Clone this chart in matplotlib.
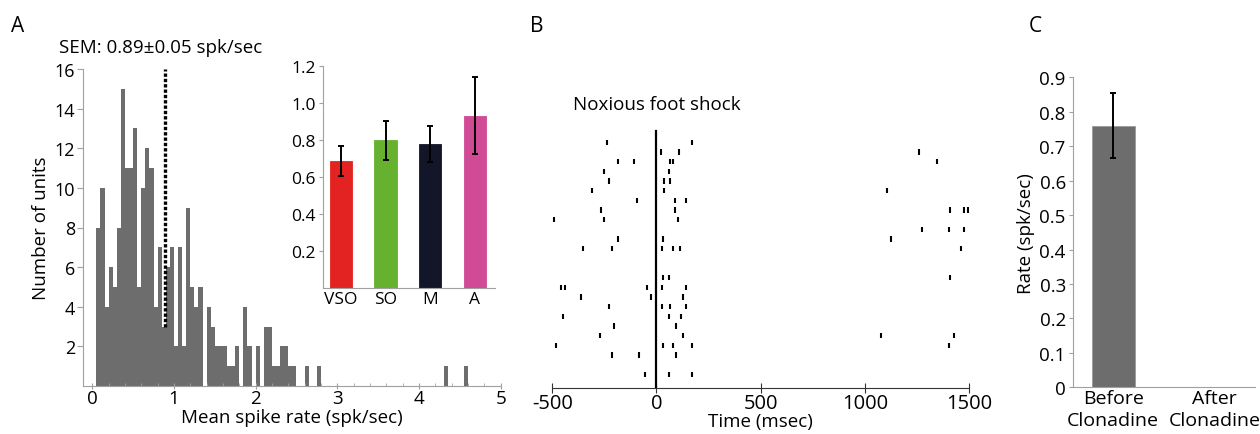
import numpy as np
import matplotlib
matplotlib.use("Agg")
import matplotlib.pyplot as plt

plt.rcParams['font.family'] = ['Open Sans', 'DejaVu Sans']
plt.rcParams['font.size'] = 12

# ---------------- data ----------------
# Panel A histogram: counts per 0.05 spk/sec bin from 0 to 5
bin_width = 0.05
hist_counts = [0, 8, 10, 4, 6, 5, 8, 15, 11, 11,
               13, 5, 10, 12, 11, 4, 7, 3, 6, 7,
               2, 7, 2, 9, 5, 4, 5, 0, 4, 3,
               2, 2, 2, 1, 1, 2, 0, 4, 2, 0,
               2, 0, 3, 3, 1, 1, 2, 2, 1, 1,
               0, 0, 1, 0, 0, 1, 0, 0, 0, 0,
               0, 0, 0, 0, 0, 0, 0, 0, 0, 0,
               0, 0, 0, 0, 0, 0, 0, 0, 0, 0,
               0, 0, 0, 0, 0, 0, 1, 0, 0, 0,
               0, 1, 0, 0, 0, 0, 0, 0, 0, 0]
mean_rate = 0.89
mean_line_range = [3, 16]
sem_text = "SEM: 0.89\u00b10.05 spk/sec"

# Inset: mean rate per group
inset_groups = ["VSO", "SO", "M", "A"]
inset_values = [0.686, 0.799, 0.780, 0.933]
inset_errors = [0.081, 0.105, 0.097, 0.21]
inset_colors = ["#e32322", "#66b22f", "#131529", "#d04a96"]

# Panel B raster: spike times (msec) per trial
raster_trials = [
    [-236, 170],
    [23, 110, 1262],
    [-185, -106, 65, 81, 1348],
    [-254, 62],
    [-230, 36, 63],
    [-311, 34, 1108],
    [-94, 87, 140],
    [-266, 90, 1409, 1474, 1495],
    [-490, -250, 102],
    [1274, 1406, 1474],
    [-186, 31, 1127],
    [-354, -212, 26, 79, 111, 1462],
    [],
    [],
    [31, 60, 1407],
    [-457, -438, -47, 26, 140],
    [-362, -25, 129],
    [-230, 26, 63, 142],
    [-449, 60, 116],
    [-202, 94],
    [-271, 127, 1078, 1426],
    [-484, 30, 79, 172, 1406],
    [-214, -86, 95],
    [],
    [-54, 60, 170],
]
time_ticks = [-500, 0, 500, 1000, 1500]
stim_label = "Noxious foot shock"

# Panel C
c_categories = ["Before\nClonadine", "After\nClonadine"]
c_values = [0.76, 0.0]
c_errors = [0.095, 0.0]

# ---------------- figure ----------------
W, H = 1260, 435
fig = plt.figure(figsize=(W / 100, H / 100), dpi=100)

def px_axes(left, top, right, bottom):
    return fig.add_axes([left / W, 1 - bottom / H, (right - left) / W, (bottom - top) / H])

spine_gray = "#a0a0a0"
bar_gray = "#6d6d6d"

# ---- Panel A ----
axA = px_axes(83.3, 70, 500.7, 387)
edges = np.arange(len(hist_counts)) * bin_width
axA.bar(edges, hist_counts, width=bin_width, align='edge', color=bar_gray, linewidth=0)
axA.plot([mean_rate, mean_rate], mean_line_range, color='black', linestyle=(0, (1, 0.6)),
         linewidth=2.4)
axA.set_xlim(-0.11, 5)
axA.set_ylim(0, 16)
axA.set_yticks([2, 4, 6, 8, 10, 12, 14, 16])
axA.set_xticks([0, 1, 2, 3, 4, 5])
axA.set_xticks(np.arange(0, 5.01, 0.2), minor=True)
for s in ['top', 'right']:
    axA.spines[s].set_visible(False)
for s in ['left', 'bottom']:
    axA.spines[s].set_color(spine_gray)
axA.tick_params(axis='y', direction='out', length=4, color=spine_gray, labelsize=13, pad=2)
axA.tick_params(axis='x', which='major', direction='inout', length=5, color=spine_gray,
                labelsize=13.5, pad=0)
axA.tick_params(axis='x', which='minor', direction='in', length=2.5, color=spine_gray)
axA.set_ylabel("Number of units", fontsize=13.5, labelpad=3)
axA.set_xlabel("Mean spike rate (spk/sec)", fontsize=13.5, labelpad=0.5)

fig.text(18 / W, 1 - 27 / H, "A", fontsize=15, ha='center', va='center')
fig.text(161 / W, 1 - 48 / H, sem_text, fontsize=13.5, ha='center', va='center')

# ---- Inset ----
axI = px_axes(322.7, 67.3, 495, 289)
xpos = np.arange(1, len(inset_groups) + 1)
axI.bar(xpos, inset_values, width=0.5, color=inset_colors, edgecolor=inset_colors,
        linewidth=0.6)
axI.errorbar(xpos, inset_values, yerr=inset_errors, fmt='none', ecolor='black',
             elinewidth=1.4, capsize=2.5, capthick=1.4)
axI.set_xlim(0.59, 4.45)
axI.set_ylim(0, 1.2)
axI.set_yticks([0.2, 0.4, 0.6, 0.8, 1.0, 1.2])
axI.set_yticklabels(["0.2", "0.4", "0.6", "0.8", "1.0", "1.2"])
axI.set_xticks(xpos)
axI.set_xticklabels(inset_groups)
for s in ['top', 'right']:
    axI.spines[s].set_visible(False)
for s in ['left', 'bottom']:
    axI.spines[s].set_color(spine_gray)
axI.tick_params(axis='y', direction='out', length=3, color=spine_gray, labelsize=12.5, pad=2)
axI.tick_params(axis='x', length=0, labelsize=12.5, pad=2)

# ---- Panel B ----
axB = px_axes(552.3, 120, 969, 389.3)
n_trials = len(raster_trials)
offsets = np.arange(n_trials)
axB.eventplot(raster_trials, lineoffsets=offsets, linelengths=0.55, linewidths=1.5,
              colors='black')
y_bottom = 25.44
axB.set_ylim(y_bottom, -2.41)
axB.set_xlim(-500, 1500)
axB.plot([0, 0], [y_bottom, -1.2], color='black', linewidth=1.6)
axB.set_yticks([])
for s in ['top', 'right', 'left']:
    axB.spines[s].set_visible(False)
axB.spines['bottom'].set_color('#333333')
axB.spines['bottom'].set_bounds(-500, 1500)
axB.set_xticks(time_ticks)
axB.set_xticklabels([str(t) for t in time_ticks])
axB.tick_params(axis='x', direction='inout', length=7, color='#333333', labelsize=14.5, pad=0)
axB.set_xlabel("Time (msec)", fontsize=13.5, labelpad=-1)
fig.text(656.5 / W, 1 - 105 / H, stim_label, fontsize=13.5, ha='center', va='center')
fig.text(537 / W, 1 - 27 / H, "B", fontsize=15, ha='center', va='center')

# ---- Panel C ----
axC = px_axes(1072.7, 78.3, 1255, 388.3)
cx = np.arange(len(c_categories))
axC.bar(cx, c_values, width=0.425, color=bar_gray, edgecolor='#9a9a9a', linewidth=0.6)
axC.errorbar(cx[:1], c_values[:1], yerr=c_errors[:1], fmt='none', ecolor='black',
             elinewidth=1.4, capsize=2.5, capthick=1.4)
axC.set_xlim(-0.4, 1.4)
axC.set_ylim(0, 0.9)
axC.set_yticks(np.round(np.arange(0, 0.91, 0.1), 1))
axC.set_yticklabels(["0"] + ["%.1f" % v for v in np.arange(0.1, 0.91, 0.1)])
axC.set_xticks(cx)
axC.set_xticklabels(c_categories, linespacing=1.3)
for s in ['top', 'right']:
    axC.spines[s].set_visible(False)
for s in ['left', 'bottom']:
    axC.spines[s].set_color(spine_gray)
axC.tick_params(axis='y', direction='out', length=3, color=spine_gray, labelsize=13.5, pad=2)
axC.tick_params(axis='x', length=0, labelsize=14, pad=1)
axC.set_ylabel("Rate (spk/sec)", fontsize=13.5, labelpad=3)
fig.text(1035 / W, 1 - 27 / H, "C", fontsize=15, ha='center', va='center')

fig.savefig("out.png", dpi=100)
